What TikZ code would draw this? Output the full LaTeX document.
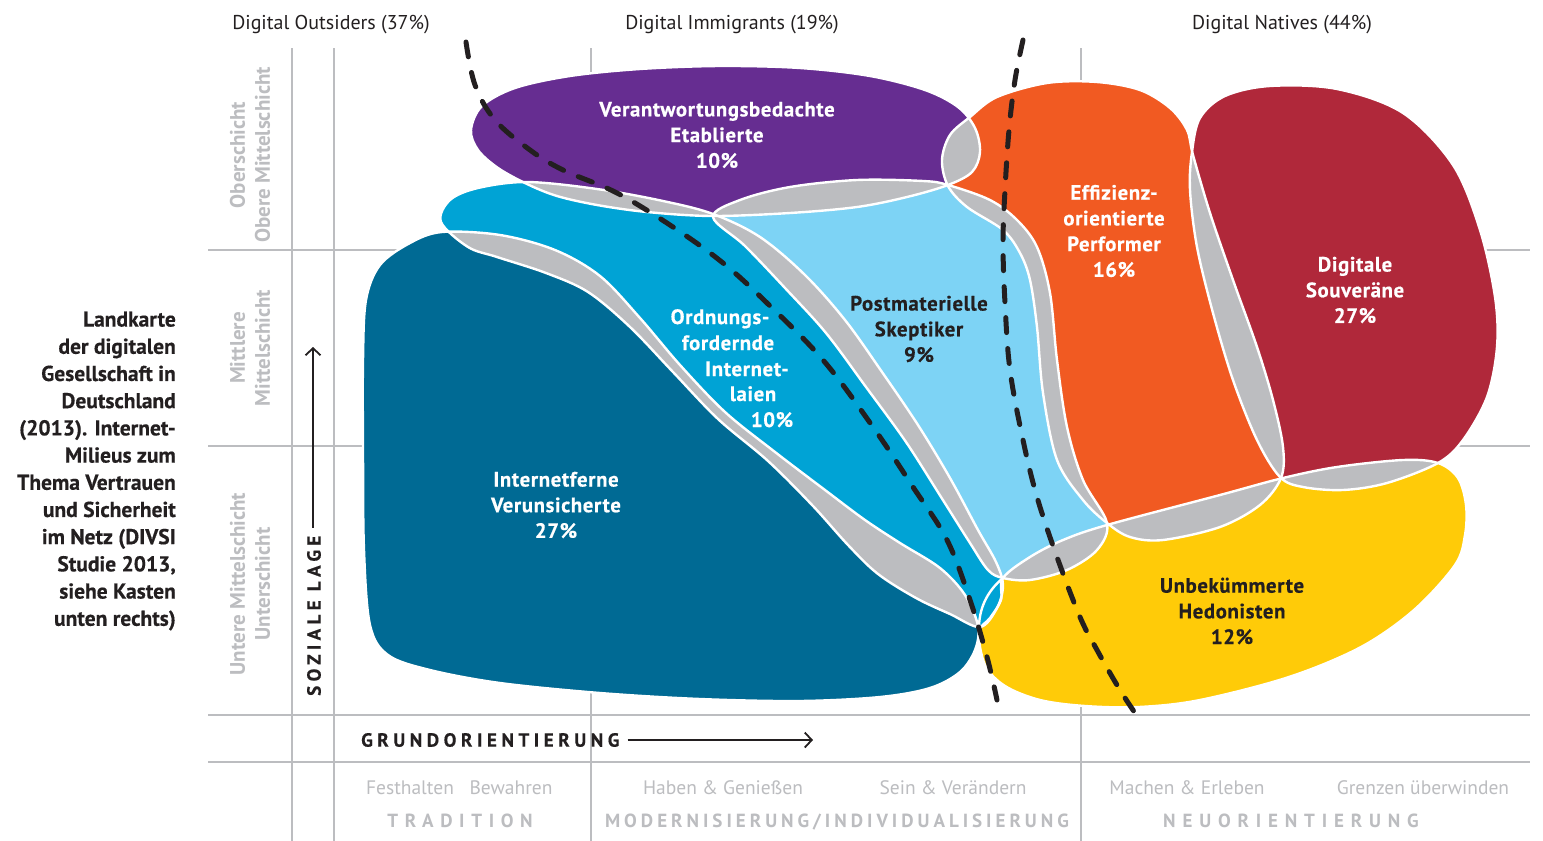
\documentclass[tikz,border=0pt]{standalone}
\usepackage{fontspec}
\setmainfont{PT Sans}
\usetikzlibrary{arrows.meta}
\definecolor{cPurple}{HTML}{662D91}
\definecolor{cMid}{HTML}{00A3D5}
\definecolor{cDark}{HTML}{006A94}
\definecolor{cLight}{HTML}{7DD3F5}
\definecolor{cOrange}{HTML}{F15A22}
\definecolor{cRed}{HTML}{B0283A}
\definecolor{cYellow}{HTML}{FFCB08}
\definecolor{cGray}{HTML}{BCBDC0}
\definecolor{cInk}{HTML}{231F20}

\newcommand\blobP{plot[smooth cycle,tension=0.55] coordinates {(471,130) (482,106) (515,88) (570,76) (640,69) (720,66) (800,68) (870,76) (925,90) (958,107) (975,128) (980,152) (972,172) (948,185) (907,197) (857,207) (790,213) (712,216) (647,212) (597,205) (557,196) (527,184) (498,168) (478,150)}}
\newcommand\blobM{plot[smooth cycle,tension=0.55] coordinates {(441,222) (450,200) (478,188) (527,182) (597,189) (663,201) (713,214) (760,237) (805,275) (845,320) (882,372) (918,425) (950,478) (978,530) (996,562) (1003,585) (997,608) (980,627) (950,614) (916,598) (878,574) (848,545) (813,506) (768,461) (718,419) (673,372) (630,327) (588,292) (546,273) (497,257) (468,247)}}
\newcommand\blobD{plot[smooth cycle,tension=0.55] coordinates {(363,360) (366,300) (380,265) (410,243) (442,232) (500,235) (555,250) (600,276) (640,318) (680,365) (725,412) (775,452) (825,490) (865,520) (900,543) (940,568) (965,595) (978,626) (975,650) (960,672) (930,688) (880,697) (800,701) (700,699) (600,693) (500,683) (430,670) (388,655) (370,625) (364,550) (363,450)}}
\newcommand\blobL{plot[smooth cycle,tension=0.55] coordinates {(713,217) (740,200) (790,187) (857,180) (923,181) (948,185) (990,200) (1017,220) (1037,247) (1050,293) (1057,360) (1067,427) (1083,480) (1107,523) (1097,550) (1067,570) (1030,580) (1003,578) (988,570) (970,543) (941,497) (906,442) (866,387) (826,333) (785,288) (745,246)}}
\newcommand\blobO{plot[smooth cycle,tension=0.55] coordinates {(970,117) (997,97) (1047,83) (1097,82) (1140,90) (1170,108) (1187,130) (1193,155) (1210,213) (1233,280) (1257,347) (1273,400) (1283,447) (1281,478) (1260,505) (1220,527) (1163,540) (1130,537) (1107,523) (1083,500) (1057,460) (1043,393) (1037,327) (1030,280) (1020,253) (1003,230) (967,207) (948,186) (942,160) (950,135)}}
\newcommand\blobR{plot[smooth cycle,tension=0.55] coordinates {(1192,152) (1200,118) (1225,96) (1270,86) (1337,89) (1403,113) (1453,165) (1480,230) (1495,297) (1497,347) (1487,397) (1463,440) (1438,463) (1387,483) (1343,490) (1303,487) (1280,477) (1257,440) (1233,380) (1213,313) (1197,247) (1190,190)}}
\newcommand\blobY{plot[smooth cycle,tension=0.55] coordinates {(1003,578) (1030,557) (1063,540) (1107,525) (1220,495) (1283,478) (1337,467) (1403,460) (1438,463) (1458,478) (1466,505) (1465,535) (1455,565) (1414,610) (1361,647) (1289,677) (1200,700) (1139,707) (1085,706) (1040,700) (1005,686) (985,665) (979,632) (990,618) (1001,600)}}

\newcommand\labfont{\fontsize{20.8}{25.7}\selectfont\bfseries\addfontfeatures{LetterSpace=3,FakeBold=0.5}}
\newcommand\rowfont{\fontsize{21}{25}\selectfont\bfseries}
\newcommand\topfont{\fontsize{20}{22}\selectfont}
\newcommand\botfont{\fontsize{19.5}{21}\selectfont}

\begin{document}
\begin{tikzpicture}[x=1pt,y=-1pt,
  grid/.style={draw=cGray,line width=2.4pt},
  outline/.style={draw=white,line width=2.4pt},
  divline/.style={draw=cInk,line width=5pt,line cap=round,dash pattern=on 15pt off 16pt},
  wlab/.style={text=white,font=\labfont,align=center,inner sep=0pt},
  blab/.style={text=cInk,font=\labfont,align=center,inner sep=0pt},
  toplab/.style={text=cInk,font=\topfont,inner sep=0pt,anchor=base},
  rowlab/.style={text=cGray,font=\rowfont,align=center,inner sep=0pt,rotate=90},
  botlab/.style={text=cGray,font=\botfont,inner sep=0pt,anchor=base},
  caplab/.style={text=cGray,inner sep=0pt,anchor=base},
  axlab/.style={text=cInk,inner sep=0pt},
  axarrow/.style={draw=cInk,line width=1.8pt,-{Straight Barb[length=7pt,width=15pt,line width=1.8pt]}},
  desc/.style={text=cInk,font=\fontsize{21.5}{27.2}\selectfont\bfseries\addfontfeatures{FakeBold=0.4},align=right,inner sep=0pt}
]
\useasboundingbox (0,0) rectangle (1543,841);
\fill[white] (0,0) rectangle (1543,841);

% grid
\draw[grid] (208,250) -- (1530,250);
\draw[grid] (208,446) -- (1530,446);
\draw[grid] (208,715) -- (1530,715);
\draw[grid] (208,762) -- (1530,762);
\draw[grid] (292,48) -- (292,841);
\draw[grid] (334,48) -- (334,841);
\draw[grid] (591,48) -- (591,841);
\draw[grid] (1081,48) -- (1081,841);

% blobs
\fill[cDark] \blobD;
\fill[cMid] \blobM;
\fill[cLight] \blobL;
\fill[cPurple] \blobP;
\fill[cOrange] \blobO;
\fill[cRed] \blobR;
\fill[cYellow] \blobY;

% overlaps
\begin{scope}\clip \blobP; \fill[cGray] \blobM; \end{scope}
\begin{scope}\clip \blobP; \fill[cGray] \blobL; \end{scope}
\begin{scope}\clip \blobP; \fill[cGray] \blobO; \end{scope}
\begin{scope}\clip \blobM; \fill[cGray] \blobD; \end{scope}
\begin{scope}\clip \blobM; \fill[cGray] \blobL; \end{scope}
\begin{scope}\clip \blobL; \fill[cGray] \blobO; \end{scope}
\begin{scope}\clip \blobL; \fill[cGray] \blobY; \end{scope}
\begin{scope}\clip \blobO; \fill[cGray] \blobR; \end{scope}
\begin{scope}\clip \blobO; \fill[cGray] \blobY; \end{scope}
\begin{scope}\clip \blobR; \fill[cGray] \blobY; \end{scope}

% outlines
\draw[outline] \blobD;
\draw[outline] \blobM;
\draw[outline] \blobL;
\draw[outline] \blobP;
\draw[outline] \blobO;
\draw[outline] \blobR;
\draw[outline] \blobY;
\draw[outline] (1003,578) .. controls (986,592) and (979,610) .. (979,628);

% dividing lines
\draw[divline] plot[smooth,tension=0.6] coordinates {(466,42) (475,85) (495,120) (530,150) (563,170) (617,193) (673,227) (723,263) (767,303) (823,360) (873,427) (913,487) (947,540) (970,600) (987,657) (997,700)};
\draw[divline] plot[smooth,tension=0.6] coordinates {(1023,40) (1015,80) (1009,130) (1005,190) (1003,243) (1005,303) (1010,370) (1023,440) (1037,497) (1057,557) (1080,617) (1097,650) (1120,690) (1141,722)};

% top labels
\node[toplab] (tOut) at (331,29) {Digital Outsiders (37\%)};
\node[toplab] (tImm) at (732,29) {Digital Immigrants (19\%)};
\node[toplab] (tNat) at (1282,29) {Digital Natives (44\%)};

% description
\node[desc,anchor=east] (desc) at (176,471) {Landkarte\\der digitalen\\Gesellschaft in\\Deutschland\\(2013). Internet-\\Milieus zum\\Thema Vertrauen\\und Sicherheit\\im Netz (DIVSI\\Studie 2013,\\siehe Kasten\\unten rechts)};

% row labels
\node[rowlab] (row1) at (250,155) {Oberschicht\\Obere Mittelschicht};
\node[rowlab] (row2) at (250,348) {Mittlere\\Mittelschicht};
\node[rowlab] (row3) at (250,584) {Untere Mittelschicht\\Unterschicht};

% axes
\node[axlab,rotate=90,anchor=west,font=\fontsize{19}{19}\selectfont\bfseries\addfontfeatures{LetterSpace=23,FakeBold=0.5}] (soz) at (314,696) {SOZIALE LAGE};
\coordinate (sozend) at (313,347);
\draw[axarrow,shorten <=8pt] (soz.east -| sozend) -- (sozend);
\node[axlab,anchor=west,font=\fontsize{19}{19}\selectfont\bfseries\addfontfeatures{LetterSpace=24,FakeBold=0.5}] (grund) at (361,740) {GRUNDORIENTIERUNG};
\coordinate (grundend) at (813,740);
\draw[axarrow,shorten <=8pt] (grund.east) -- (grundend);

% bottom labels
\node[botlab] (b1) at (410,794) {Festhalten};
\node[botlab] (b2) at (511,794) {Bewahren};
\node[botlab] (b3) at (723,794) {Haben \& Genießen};
\node[botlab] (b4) at (953,794) {Sein \& Verändern};
\node[botlab] (b5) at (1187,794) {Machen \& Erleben};
\node[botlab] (b6) at (1423,794) {Grenzen überwinden};
\node[caplab,font=\fontsize{19}{19}\selectfont\bfseries\addfontfeatures{LetterSpace=35}] (c1) at (460,827) {TRADITION};
\node[caplab,font=\fontsize{19}{19}\selectfont\bfseries\addfontfeatures{LetterSpace=21}] (c2) at (837,827) {MODERNISIERUNG/INDIVIDUALISIERUNG};
\node[caplab,font=\fontsize{19}{19}\selectfont\bfseries\addfontfeatures{LetterSpace=36}] (c3) at (1291,827) {NEUORIENTIERUNG};

% milieu labels
\node[wlab] (lP) at (717,135) {Verantwortungsbedachte\\Etablierte\\10\%};
\node[wlab] (lO) at (1114,231) {Effizienz-\\orientierte\\Performer\\16\%};
\node[wlab] (lR) at (1355,290) {Digitale\\Souveräne\\27\%};
\node[blab] (lL) at (919,329) {Postmaterielle\\Skeptiker\\9\%};
\node[wlab] (lD) at (556,505) {Internetferne\\Verunsicherte\\27\%};
\node[blab] (lY) at (1232,611) {Unbekümmerte\\Hedonisten\\12\%};
\node[wlab,anchor=base] (lM1) at (720,324) {Ordnungs-};
\node[wlab,anchor=base] (lM2) at (728,350) {fordernde};
\node[wlab,anchor=base] (lM3) at (747,376) {Internet-};
\node[wlab,anchor=base] (lM4) at (753,401) {laien};
\node[wlab,anchor=base] (lM5) at (772,427) {10\%};
\end{tikzpicture}
\end{document}
